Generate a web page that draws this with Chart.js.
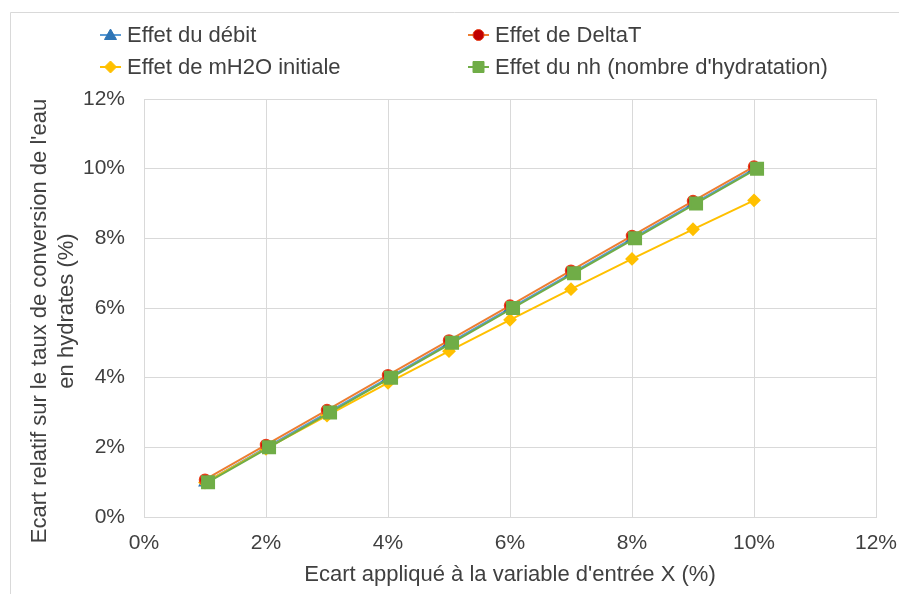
<!DOCTYPE html>
<html>
<head>
    <meta charset="utf-8">
    <title>Ecart relatif sur le taux de conversion</title>
    <style>
        html, body { margin: 0; padding: 0; background: #fff; }
        #chart { display: block; }
    </style>
</head>
<body>
    <canvas id="chart" width="899" height="594"></canvas>

    <script src="https://cdn.jsdelivr.net/npm/chart.js"></script>
    <script>
        // --- Données (en %) ---
        const seriesNames = [
            'Effet du débit',
            'Effet de DeltaT',
            'Effet de mH2O initiale',
            "Effet du nh (nombre d'hydratation)"
        ];
        const xEcart = [1, 2, 3, 4, 5, 6, 7, 8, 9, 10];
        const xEcartNh = [1.05, 2.05, 3.05, 4.05, 5.05, 6.05, 7.05, 8.05, 9.05, 10.05];
        const yDebit = [0.99, 1.99, 2.99, 3.99, 4.99, 5.99, 6.99, 7.99, 8.99, 9.99];
        const yDeltaT = [1.07, 2.07, 3.07, 4.07, 5.07, 6.07, 7.07, 8.07, 9.07, 10.06];
        const yMh2o = [0.99, 1.96, 2.91, 3.85, 4.76, 5.66, 6.54, 7.41, 8.26, 9.09];
        const yNh = [1.0, 2.0, 3.0, 4.0, 5.0, 6.0, 7.0, 8.0, 9.0, 10.0];
        const axisTicks = [0, 2, 4, 6, 8, 10, 12];
        const yTitleLines = ["Ecart relatif sur le taux de conversion de l'eau", 'en hydrates (%)'];
        const xTitle = "Ecart appliqué à la variable d'entrée X (%)";

        function toPoints(xs, ys) {
            return xs.map((x, i) => ({ x: x, y: ys[i] }));
        }

        const fontFamily = "'Liberation Sans', Arial, sans-serif";
        const textColor = '#404040';
        const gridColor = '#d9d9d9';

        // Fond blanc + cadre extérieur du graphique
        const frame = {
            id: 'frame',
            beforeDraw(chart) {
                const ctx = chart.ctx;
                ctx.save();
                ctx.fillStyle = '#fff';
                ctx.fillRect(0, 0, chart.width, chart.height);
                ctx.strokeStyle = gridColor;
                ctx.lineWidth = 1;
                ctx.beginPath();
                ctx.moveTo(10.5, chart.height);
                ctx.lineTo(10.5, 12.5);
                ctx.lineTo(chart.width, 12.5);
                ctx.stroke();
                ctx.restore();
            }
        };

        // Titre de l'axe Y (deux lignes, comme dans Excel)
        const yAxisTitle = {
            id: 'yAxisTitle',
            afterDraw(chart) {
                const ctx = chart.ctx;
                const lineX = [40, 67];
                const lineCenter = [321, 311];
                ctx.save();
                ctx.font = '22px ' + fontFamily;
                ctx.fillStyle = textColor;
                ctx.textAlign = 'center';
                ctx.textBaseline = 'middle';
                yTitleLines.forEach((txt, i) => {
                    ctx.save();
                    ctx.translate(lineX[i], lineCenter[i]);
                    ctx.rotate(-Math.PI / 2);
                    ctx.fillText(txt, 0, 0);
                    ctx.restore();
                });
                ctx.restore();
            }
        };

        // Marqueur (pour la légende)
        function drawMarker(ctx, style, x, y, fill, stroke) {
            ctx.fillStyle = fill;
            ctx.strokeStyle = stroke;
            ctx.lineWidth = 1;
            ctx.beginPath();
            if (style === 'triangle') {
                ctx.moveTo(x, y - 6);
                ctx.lineTo(x + 6, y + 4.5);
                ctx.lineTo(x - 6, y + 4.5);
                ctx.closePath();
            } else if (style === 'circle') {
                ctx.arc(x, y, 5.5, 0, Math.PI * 2);
            } else if (style === 'rectRot') {
                ctx.moveTo(x, y - 6);
                ctx.lineTo(x + 6, y);
                ctx.lineTo(x, y + 6);
                ctx.lineTo(x - 6, y);
                ctx.closePath();
            } else {
                ctx.rect(x - 5.5, y - 5.5, 11, 11);
            }
            ctx.fill();
            ctx.stroke();
        }

        // Légende sur deux colonnes
        const twoColLegend = {
            id: 'twoColLegend',
            afterDraw(chart) {
                const ctx = chart.ctx;
                const colX = [100, 468];
                const rowY = [35, 67];
                ctx.save();
                ctx.font = '22px ' + fontFamily;
                ctx.textBaseline = 'middle';
                ctx.textAlign = 'left';
                chart.data.datasets.forEach((ds, i) => {
                    const x0 = colX[i % 2];
                    const y = rowY[Math.floor(i / 2)];
                    ctx.strokeStyle = ds.borderColor;
                    ctx.lineWidth = 2;
                    ctx.beginPath();
                    ctx.moveTo(x0, y);
                    ctx.lineTo(x0 + 21, y);
                    ctx.stroke();
                    drawMarker(ctx, ds.pointStyle, x0 + 10.5, y, ds.pointBackgroundColor, ds.pointBorderColor);
                    ctx.fillStyle = textColor;
                    ctx.fillText(ds.label, x0 + 27, y + 1);
                });
                ctx.restore();
            }
        };

        const ctx = document.getElementById('chart').getContext('2d');

        const chart = new Chart(ctx, {
            type: 'line',
            data: {
                datasets: [
                    {
                        label: seriesNames[0],
                        data: toPoints(xEcart, yDebit),
                        borderColor: '#5B9BD5',
                        pointBackgroundColor: '#2E75B6',
                        pointBorderColor: '#2E75B6',
                        pointStyle: 'triangle',
                        pointRadius: 6,
                        borderWidth: 2,
                        order: 4
                    },
                    {
                        label: seriesNames[1],
                        data: toPoints(xEcart, yDeltaT),
                        borderColor: '#ED7D31',
                        pointBackgroundColor: '#C00000',
                        pointBorderColor: '#E8401C',
                        pointStyle: 'circle',
                        pointRadius: 5.5,
                        pointBorderWidth: 1.5,
                        borderWidth: 2,
                        order: 2
                    },
                    {
                        label: seriesNames[2],
                        data: toPoints(xEcart, yMh2o),
                        borderColor: '#FFC000',
                        pointBackgroundColor: '#FFC000',
                        pointBorderColor: '#FFC000',
                        pointStyle: 'rectRot',
                        pointRadius: 5.5,
                        borderWidth: 2,
                        order: 3
                    },
                    {
                        label: seriesNames[3],
                        data: toPoints(xEcartNh, yNh),
                        borderColor: '#70AD47',
                        pointBackgroundColor: '#70AD47',
                        pointBorderColor: '#70AD47',
                        pointStyle: 'rect',
                        pointRadius: 8.5,
                        borderWidth: 2,
                        order: 1
                    }
                ]
            },
            options: {
                responsive: false,
                animation: false,
                layout: {
                    padding: { top: 99, right: 23, bottom: 0, left: 0 }
                },
                plugins: {
                    legend: { display: false },
                    tooltip: { enabled: false }
                },
                scales: {
                    x: {
                        type: 'linear',
                        min: 0,
                        max: 12,
                        afterFit: (scale) => {
                            scale.height = 77;
                            scale.paddingLeft = 0;
                            scale.paddingRight = 0;
                        },
                        afterBuildTicks: (scale) => {
                            scale.ticks = axisTicks.map(v => ({ value: v }));
                        },
                        ticks: {
                            callback: (v) => v + '%',
                            color: textColor,
                            font: { size: 21, family: fontFamily },
                            padding: 14,
                            maxRotation: 0
                        },
                        grid: { color: gridColor, drawTicks: false },
                        border: { color: gridColor },
                        title: {
                            display: true,
                            text: xTitle,
                            color: textColor,
                            font: { size: 22, family: fontFamily, lineHeight: 1.2 },
                            padding: { top: 0, bottom: 6 }
                        }
                    },
                    y: {
                        min: 0,
                        max: 12,
                        afterFit: (scale) => {
                            scale.width = 144;
                            scale.paddingTop = 0;
                            scale.paddingBottom = 0;
                        },
                        afterBuildTicks: (scale) => {
                            scale.ticks = axisTicks.map(v => ({ value: v }));
                        },
                        ticks: {
                            callback: (v) => v + '%',
                            color: textColor,
                            font: { size: 21, family: fontFamily },
                            padding: 19
                        },
                        grid: { color: gridColor, drawTicks: false },
                        border: { color: gridColor },
                        title: { display: false }
                    }
                }
            },
            plugins: [frame, yAxisTitle, twoColLegend]
        });
    </script>
</body>
</html>
